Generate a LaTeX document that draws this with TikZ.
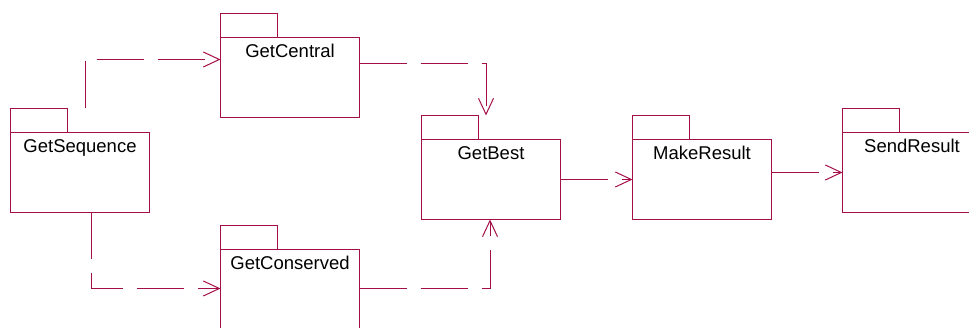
\documentclass[tikz,border=0pt]{standalone}
\usepackage{fontspec}
\setmainfont{Liberation Sans}
\usetikzlibrary{matrix,arrows.meta}
\definecolor{pkgred}{RGB}{165,15,72}

\begin{document}
\begin{tikzpicture}[x=1pt, y=1pt,
                    >={Straight Barb[length=16pt, width=15pt]},
                    package/.style={draw=pkgred, line width=1pt, rectangle, inner sep=0pt, outer sep=0pt,
                                    minimum width=139pt, text height=20pt, text depth=60pt,
                                    font=\fontsize{18.5pt}{22pt}\selectfont},
                    tab/.style={draw=pkgred, line width=1pt},
                    dep/.style={->, draw=pkgred, line width=1pt, dash pattern=on 47pt off 14pt}]

\useasboundingbox (0,0) rectangle (969,328);

\matrix (m) [anchor=north west, inner sep=0pt, outer sep=0pt, column sep=61pt, row sep=14pt] at (10,291) {

&[9pt] \node [package] (central) {GetCentral}; \\

\node [package] (seq) {GetSequence}; &[9pt] &
\node [package, yshift=-7pt] (best) {GetBest}; &[10pt]
\node [package, yshift=-7pt] (make) {MakeResult}; &[9pt]
\node [package] (send) {SendResult}; \\[15pt]

&[9pt] \node [package] (conserved) {GetConserved}; \\};

\foreach \p in {seq,central,conserved,best,make,send}
  \draw [tab] (\p.north west) rectangle ++(57,24);

\draw [dep] ([xshift=5pt, yshift=24pt]seq.north) |- ([yshift=-22pt]central.north west);
\draw [dep] ([xshift=11pt]seq.south) |- ([yshift=-39pt]conserved.north west);
\draw [dep] ([yshift=-26pt]central.north east) -| ([xshift=-5pt, yshift=24pt]best.north);
\draw [dep] ([yshift=-39pt]conserved.north east) -| ([xshift=-1pt]best.south);
\draw [dep] (best.east) -- (make.west);
\draw [dep] (make.east |- send.west) -- (send.west);
\end{tikzpicture}
\end{document}
